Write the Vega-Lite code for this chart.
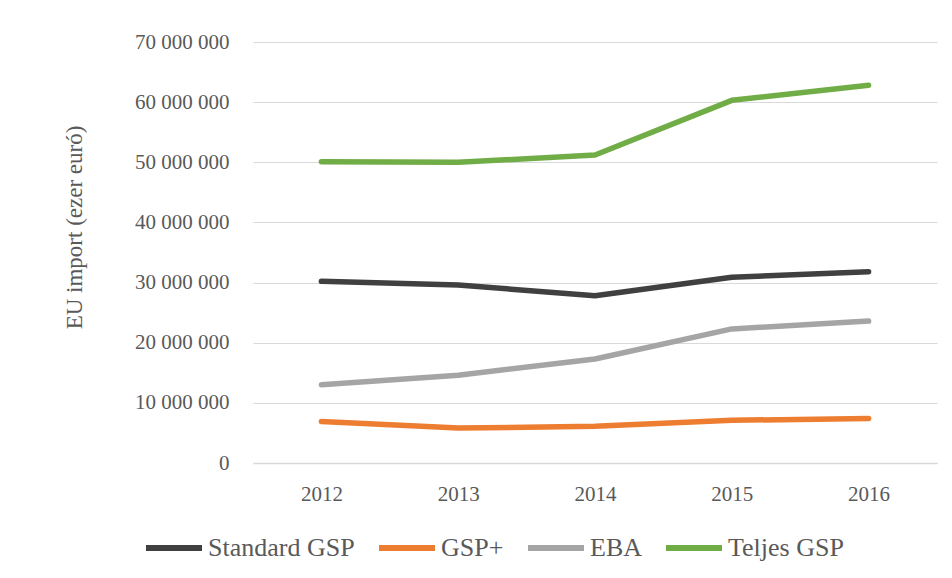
{
  "$schema": "https://vega.github.io/schema/vega-lite/v6.json",
  "autosize": "none",
  "width": 684,
  "height": 421,
  "padding": {"left": 253, "top": 42, "right": 15, "bottom": 115},
  "background": "white",
  "data": {
    "values": [
      {"year": "2012", "series": "Standard GSP", "value": 30200000},
      {"year": "2013", "series": "Standard GSP", "value": 29600000},
      {"year": "2014", "series": "Standard GSP", "value": 27800000},
      {"year": "2015", "series": "Standard GSP", "value": 30900000},
      {"year": "2016", "series": "Standard GSP", "value": 31800000},
      {"year": "2012", "series": "GSP+", "value": 6900000},
      {"year": "2013", "series": "GSP+", "value": 5800000},
      {"year": "2014", "series": "GSP+", "value": 6100000},
      {"year": "2015", "series": "GSP+", "value": 7100000},
      {"year": "2016", "series": "GSP+", "value": 7400000},
      {"year": "2012", "series": "EBA", "value": 13000000},
      {"year": "2013", "series": "EBA", "value": 14600000},
      {"year": "2014", "series": "EBA", "value": 17300000},
      {"year": "2015", "series": "EBA", "value": 22300000},
      {"year": "2016", "series": "EBA", "value": 23600000},
      {"year": "2012", "series": "Teljes GSP", "value": 50100000},
      {"year": "2013", "series": "Teljes GSP", "value": 50000000},
      {"year": "2014", "series": "Teljes GSP", "value": 51200000},
      {"year": "2015", "series": "Teljes GSP", "value": 60300000},
      {"year": "2016", "series": "Teljes GSP", "value": 62800000}
    ]
  },
  "mark": {"type": "line", "strokeWidth": 5.5, "strokeCap": "round", "strokeJoin": "round"},
  "encoding": {
    "x": {
      "field": "year", "type": "ordinal",
      "scale": {"type": "point", "padding": 0.5},
      "axis": {"title": null, "labelAngle": 0, "ticks": false, "domain": true, "domainColor": "#d9d9d9", "domainWidth": 1.5, "labelPadding": 20, "grid": false}
    },
    "y": {
      "field": "value", "type": "quantitative",
      "scale": {"domain": [0, 70000000]},
      "axis": {"title": "EU import (ezer euró)", "values": [0,10000000,20000000,30000000,40000000,50000000,60000000,70000000], "format": ",d", "labelOverlap": false, "ticks": false, "domain": false, "labelPadding": 24, "titlePadding": 48, "titleY": 185, "titleFontSize": 23, "gridColor": "#d9d9d9", "gridWidth": 1}
    },
    "color": {
      "field": "series", "type": "nominal",
      "scale": {"domain": ["Standard GSP", "GSP+", "EBA", "Teljes GSP"], "range": ["#404040", "#ED7D31", "#A5A5A5", "#70AD47"]},
      "legend": {"title": null, "orient": "none", "legendX": -110, "legendY": 475, "direction": "horizontal", "symbolType": "stroke", "symbolSize": 3136, "symbolStrokeWidth": 6, "labelFont": "Liberation Serif", "labelFontSize": 26, "labelOffset": 3, "columnPadding": 12}
    }
  },
  "config": {
    "font": "Liberation Serif",
    "locale": {"number": {"decimal": ",", "thousands": " ", "grouping": [3], "currency": ["", " €"]}},
    "view": {"stroke": null},
    "axis": {"labelFont": "Liberation Serif", "titleFont": "Liberation Serif", "labelFontSize": 21, "titleFontSize": 23, "titleFontWeight": "normal", "labelColor": "#595959", "titleColor": "#595959"},
    "legend": {"labelFont": "Liberation Serif", "labelColor": "#595959"}
  }
}
